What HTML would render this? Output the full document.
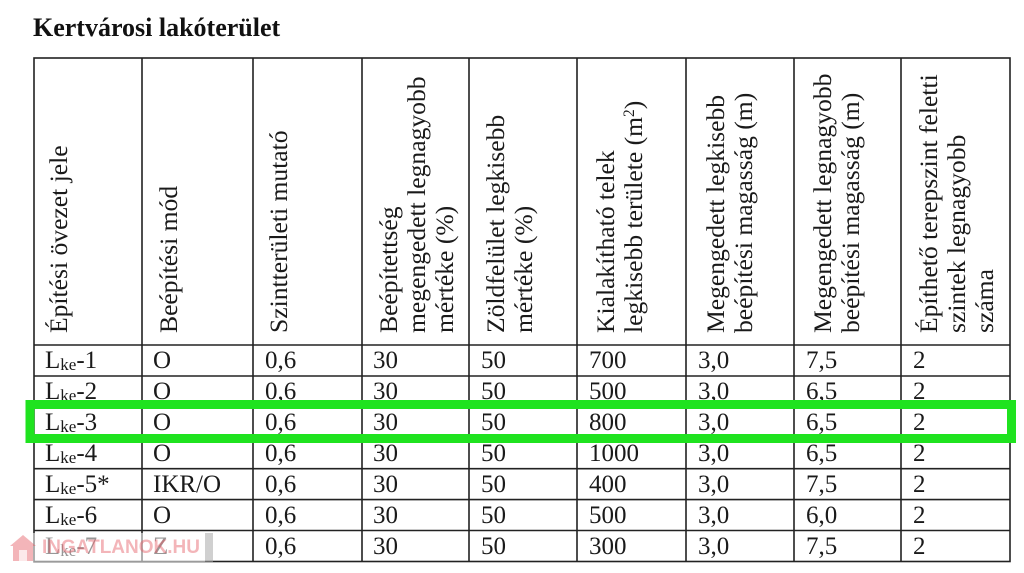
<!DOCTYPE html>
<html>
<head>
<meta charset="utf-8">
<style>
  html, body { margin:0; padding:0; background:#fff; }
  body { width:1024px; height:573px; position:relative; overflow:hidden;
         font-family:"Liberation Serif", "DejaVu Serif", serif; color:#1a1a1a; }
  .title { position:absolute; left:33px; top:13px; font-size:26px; font-weight:bold; line-height:30px; white-space:nowrap; color:#111; }
  .h { position:absolute; top:333px; transform-origin:0 0; transform:rotate(-90deg);
       font-size:25.6px; line-height:28px; white-space:nowrap; }
  .h sup { font-size:0.6em; line-height:0; vertical-align:0; position:relative; top:-0.55em; }
  .d { position:absolute; font-size:25px; line-height:31px; height:31px; white-space:nowrap; }
  .d sub { font-size:17px; line-height:0; vertical-align:0; position:relative; top:2px; }
  svg { position:absolute; left:0; top:0; }
  .wm { position:absolute; left:10px; top:533px; width:195px; height:29px; background:rgba(255,255,255,0.55); }
  .wmbar { position:absolute; left:205px; top:533px; width:8px; height:29px; background:rgba(170,170,170,0.55); }
  .wmt { position:absolute; left:42px; top:535px; font-family:"Liberation Sans", sans-serif; font-weight:bold;
         font-size:19px; line-height:26px; color:rgba(228,90,100,0.45); white-space:nowrap; }
</style>
</head>
<body>
<div class="title">Kertvárosi lakóterület</div>

<svg width="1024" height="573" viewBox="0 0 1024 573">
  <g stroke="#222" stroke-width="1.6" fill="none">
    <rect x="34" y="58" width="976" height="503.5"/>
    <line x1="142" y1="58" x2="142" y2="561.5"/>
    <line x1="253" y1="58" x2="253" y2="561.5"/>
    <line x1="362" y1="58" x2="362" y2="561.5"/>
    <line x1="469" y1="58" x2="469" y2="561.5"/>
    <line x1="577" y1="58" x2="577" y2="561.5"/>
    <line x1="686" y1="58" x2="686" y2="561.5"/>
    <line x1="794" y1="58" x2="794" y2="561.5"/>
    <line x1="901" y1="58" x2="901" y2="561.5"/>
    <line x1="34" y1="345" x2="1010" y2="345"/>
    <line x1="34" y1="376" x2="1010" y2="376"/>
    <line x1="34" y1="407" x2="1010" y2="407"/>
    <line x1="34" y1="438" x2="1010" y2="438"/>
    <line x1="34" y1="468.7" x2="1010" y2="468.7"/>
    <line x1="34" y1="499.6" x2="1010" y2="499.6"/>
    <line x1="34" y1="530.5" x2="1010" y2="530.5"/>
  </g>
</svg>

<!-- Header (rotated) -->
<div class="h" style="left:45px;">Építési övezet jele</div>
<div class="h" style="left:155px;">Beépítési mód</div>
<div class="h" style="left:265px;">Szintterületi mutató</div>
<div class="h" style="left:375px;">Beépítettség<br>megengedett legnagyobb<br>mértéke (%)</div>
<div class="h" style="left:482px;">Zöldfelület legkisebb<br>mértéke (%)</div>
<div class="h" style="left:592px;">Kialakítható telek<br>legkisebb területe (m<sup>2</sup>)</div>
<div class="h" style="left:702px;">Megengedett legkisebb<br>beépítési magasság (m)</div>
<div class="h" style="left:809px;">Megengedett legnagyobb<br>beépítési magasság (m)</div>
<div class="h" style="left:915px;">Építhető terepszint feletti<br>szintek legnagyobb<br>száma</div>

<!-- Row 1 -->
<div class="d" style="left:45px;top:345px;">L<sub>ke</sub>-1</div>
<div class="d" style="left:153px;top:345px;">O</div>
<div class="d" style="left:265px;top:345px;">0,6</div>
<div class="d" style="left:373px;top:345px;">30</div>
<div class="d" style="left:481px;top:345px;">50</div>
<div class="d" style="left:589px;top:345px;">700</div>
<div class="d" style="left:698px;top:345px;">3,0</div>
<div class="d" style="left:806px;top:345px;">7,5</div>
<div class="d" style="left:913px;top:345px;">2</div>
<!-- Row 2 -->
<div class="d" style="left:45px;top:376px;">L<sub>ke</sub>-2</div>
<div class="d" style="left:153px;top:376px;">O</div>
<div class="d" style="left:265px;top:376px;">0,6</div>
<div class="d" style="left:373px;top:376px;">30</div>
<div class="d" style="left:481px;top:376px;">50</div>
<div class="d" style="left:589px;top:376px;">500</div>
<div class="d" style="left:698px;top:376px;">3,0</div>
<div class="d" style="left:806px;top:376px;">6,5</div>
<div class="d" style="left:913px;top:376px;">2</div>
<!-- Row 3 -->
<div class="d" style="left:45px;top:407px;">L<sub>ke</sub>-3</div>
<div class="d" style="left:153px;top:407px;">O</div>
<div class="d" style="left:265px;top:407px;">0,6</div>
<div class="d" style="left:373px;top:407px;">30</div>
<div class="d" style="left:481px;top:407px;">50</div>
<div class="d" style="left:589px;top:407px;">800</div>
<div class="d" style="left:698px;top:407px;">3,0</div>
<div class="d" style="left:806px;top:407px;">6,5</div>
<div class="d" style="left:913px;top:407px;">2</div>
<!-- Row 4 -->
<div class="d" style="left:45px;top:438px;">L<sub>ke</sub>-4</div>
<div class="d" style="left:153px;top:438px;">O</div>
<div class="d" style="left:265px;top:438px;">0,6</div>
<div class="d" style="left:373px;top:438px;">30</div>
<div class="d" style="left:481px;top:438px;">50</div>
<div class="d" style="left:589px;top:438px;">1000</div>
<div class="d" style="left:698px;top:438px;">3,0</div>
<div class="d" style="left:806px;top:438px;">6,5</div>
<div class="d" style="left:913px;top:438px;">2</div>
<!-- Row 5 -->
<div class="d" style="left:45px;top:468.7px;">L<sub>ke</sub>-5*</div>
<div class="d" style="left:153px;top:468.7px;">IKR/O</div>
<div class="d" style="left:265px;top:468.7px;">0,6</div>
<div class="d" style="left:373px;top:468.7px;">30</div>
<div class="d" style="left:481px;top:468.7px;">50</div>
<div class="d" style="left:589px;top:468.7px;">400</div>
<div class="d" style="left:698px;top:468.7px;">3,0</div>
<div class="d" style="left:806px;top:468.7px;">7,5</div>
<div class="d" style="left:913px;top:468.7px;">2</div>
<!-- Row 6 -->
<div class="d" style="left:45px;top:499.6px;">L<sub>ke</sub>-6</div>
<div class="d" style="left:153px;top:499.6px;">O</div>
<div class="d" style="left:265px;top:499.6px;">0,6</div>
<div class="d" style="left:373px;top:499.6px;">30</div>
<div class="d" style="left:481px;top:499.6px;">50</div>
<div class="d" style="left:589px;top:499.6px;">500</div>
<div class="d" style="left:698px;top:499.6px;">3,0</div>
<div class="d" style="left:806px;top:499.6px;">6,0</div>
<div class="d" style="left:913px;top:499.6px;">2</div>
<!-- Row 7 -->
<div class="d" style="left:45px;top:530.5px;">L<sub>ke</sub>-7</div>
<div class="d" style="left:153px;top:530.5px;">Z</div>
<div class="d" style="left:265px;top:530.5px;">0,6</div>
<div class="d" style="left:373px;top:530.5px;">30</div>
<div class="d" style="left:481px;top:530.5px;">50</div>
<div class="d" style="left:589px;top:530.5px;">300</div>
<div class="d" style="left:698px;top:530.5px;">3,0</div>
<div class="d" style="left:806px;top:530.5px;">7,5</div>
<div class="d" style="left:913px;top:530.5px;">2</div>

<!-- Green highlight -->
<svg width="1024" height="573" viewBox="0 0 1024 573">
  <rect x="30" y="404.5" width="981.5" height="34" fill="none" stroke="#1fe31f" stroke-width="9"/>
</svg>

<!-- Watermark -->
<div class="wm"></div>
<div class="wmbar"></div>
<svg width="1024" height="573" viewBox="0 0 1024 573">
  <g fill="rgba(228,90,100,0.45)">
    <polygon points="10,546 23,535 36,546 33,546 33,561 13,561 13,546"/>
  </g>
  <rect x="19" y="550" width="8" height="11" fill="rgba(255,255,255,0.7)"/>
</svg>
<div class="wmt">INGATLANOK.HU</div>
</body>
</html>
